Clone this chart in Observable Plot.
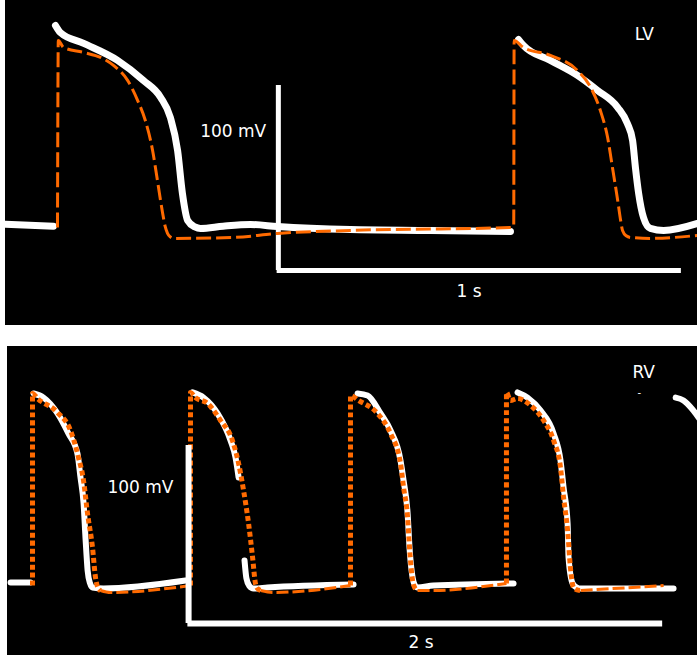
<!DOCTYPE html>
<html>
<head>
<meta charset="utf-8">
<script src="https://cdn.jsdelivr.net/npm/d3@7"></script>
<script src="https://cdn.jsdelivr.net/npm/@observablehq/plot@0.6"></script>
<style>
  html, body { margin: 0; padding: 0; background: #fff; }
  #wrap { position: relative; width: 700px; height: 658px; background: #fff; overflow: hidden; }
  #lv { position: absolute; left: 5px; top: 0; }
  #rv { position: absolute; left: 7px; top: 346px; }
</style>
</head>
<body>
<div id="wrap">
  <div id="lv"></div>
  <div id="rv"></div>
</div>
<script>
// ---- Left ventricle: recorded action potentials (time in ms, membrane potential in mV); NaN = gap in trace
const lvRecTime = [0, 119, NaN, 124, 136, 194, 278, 342, 385, 409, 427, 439, 452, 470, 484, 540, 608, 675, 856, 1055, 1253, NaN,
  1273, 1285, 1352, 1419, 1469, 1519, 1543, 1556, 1563, 1571, 1583, 1600, 1633, 1717];
const lvRecV = [-86, -87, NaN, 21.5, 17.7, 11.8, 2.6, -8.2, -17.4, -28.2, -46.1, -69.3, -83.9, -87.4, -88.2, -87.0, -86.1, -87.2, -88.8, -89.3, -89.9, NaN,
  13.9, 10.7, 2.6, -5.5, -13.6, -22.8, -31.5, -40.7, -55.3, -69.3, -82.3, -88.2, -89.3, -85.5];

// ---- Left ventricle: model action potentials
const lvModelTime = [129, 131, 144, 194, 236, 268, 303, 328, 347, 365, 377, 390, 396, 402, 409, 417, 566, 675, 856, 1253, 1261,
  1262, 1285, 1352, 1419, 1452, 1476, 1494, 1506, 1519, 1526, 1531, 1540, 1551, 1600, 1717];
const lvModelV = [-87.7, 13.4, 9.6, 6.9, 4.2, -0.1, -8.2, -19.1, -29.9, -46.1, -62.3, -80.1, -87.0, -90.9, -92.8, -93.6, -93.1, -90.9, -89.3, -87.7, -87.2,
  13.4, 9.6, 5.3, -2.8, -12.0, -24.5, -39.1, -55.3, -73.1, -83.5, -89.3, -92.2, -93.1, -93.6, -92.0];

// ---- Right ventricle: recorded action potentials
const rvRecTime = [13, 97, NaN, 110, 152, 211, 257, 295, 308, 321, 329, 338, 348, 359, 405, 751, NaN,
  781, 827, 886, 941, 962, 975, NaN, 1000, 1008, 1020, 1038, 1097, 1460, NaN,
  1477, 1519, 1574, 1616, 1658, 1671, 1688, 1696, 1709, 1718, 1730, 1797, 2135, NaN,
  2152, 2194, 2249, 2304, 2333, 2346, 2363, 2367, 2384, 2400, 2418, 2810, NaN,
  2819, 2852, 2894, 2924];
const rvRecV = [-83.6, -83.6, NaN, 22.6, 20.3, 11.4, 0.1, -11.1, -24.6, -39.2, -58.3, -76.8, -84.0, -86.4, -87.0, -82.5, NaN,
  23.2, 20.3, 11.4, -3.8, -13.4, -24.6, NaN, -71.2, -81.3, -85.5, -87.0, -86.4, -84.7, NaN,
  22.6, 21.5, 11.4, 1.8, -15.0, -26.3, -44.8, -63.9, -80.8, -85.0, -86.4, -85.3, -84.1, NaN,
  23.2, 20.3, 13.0, 0.1, -15.0, -30.2, -50.4, -69.5, -84.1, -86.3, -87.0, -87.0, NaN,
  20.3, 18.7, 13.0, 7.4];

// ---- Right ventricle: model action potentials, split into upstroke/repolarisation ("ap") and diastole ("rest")
const rvModelTime = [
  105.5, 105.5, 126.6, 211, 265.8, 299.6, 320.7, 337.6, 358.6, 371.3, 380, 392.4,
  392.4, 434.6, 772,
  772, 772, 793, 844, 899, 949, 975, 996, 1017, 1034, 1046, 1055, 1068,
  1068, 1122, 1447,
  1447, 1447, 1481, 1561, 1616, 1658, 1671, 1688, 1696, 1709, 1718, 1730,
  1730, 1785, 2105,
  2105, 2105, 2122, 2152, 2207, 2262, 2304, 2333, 2346, 2363, 2376, 2388, 2400, 2418,
  2418, 2768];
const rvModelV = [
  -85.3, 22.6, 19.8, 11.9, 1.8, -13.4, -26.3, -44.8, -63.9, -80.8, -86.0, -88.1,
  -88.1, -89.2, -85.3,
  -85.3, 23.2, 20.3, 17.0, 7.4, -3.8, -16.7, -31.9, -50.4, -69.5, -84.1, -87.0, -88.1,
  -88.1, -89.2, -85.3,
  -85.3, 21.5, 18.7, 11.4, 0.1, -16.7, -30.2, -47.1, -63.9, -82.5, -86.5, -88.1,
  -88.1, -88.1, -84.1,
  -84.1, 23.2, 18.7, 19.8, 15.9, 7.4, -3.8, -19.0, -35.8, -54.4, -76.8, -86.4, -87.6, -88.1,
  -88.1, -85.3];
const rvModelPhase = [
  "ap", "ap", "ap", "ap", "ap", "ap", "ap", "ap", "ap", "ap", "ap", "ap",
  "rest", "rest", "rest",
  "ap", "ap", "ap", "ap", "ap", "ap", "ap", "ap", "ap", "ap", "ap", "ap", "ap",
  "rest", "rest", "rest",
  "ap", "ap", "ap", "ap", "ap", "ap", "ap", "ap", "ap", "ap", "ap", "ap",
  "rest", "rest", "rest",
  "ap", "ap", "ap", "ap", "ap", "ap", "ap", "ap", "ap", "ap", "ap", "ap", "ap", "ap",
  "rest", "rest"];

// ---- Scale bars (origin time, origin potential, length in ms and mV) and labels
const lvBar = {t: 677, v: -110.9, ms: 1000, mV: 100};
const rvBar = {t: 764, v: -106.6, ms: 2000, mV: 100};
const lvLabels = [
  {t: 647, v: -36.1, text: "100 mV", anchor: "end"},
  {t: 1150, v: -122.6, text: "1 s", anchor: "middle"},
  {t: 1585, v: 16.8, text: "LV", anchor: "middle"}
];
const rvLabels = [
  {t: 700, v: -30.0, text: "100 mV", anchor: "end"},
  {t: 1745, v: -117.1, text: "2 s", anchor: "middle"},
  {t: 2684, v: 34.6, text: "RV", anchor: "middle"}
];
const rvMarker = [{t: 2665, v: 23.0}];

const ORANGE = "#ff6a00";
const FONT = "DejaVu Sans, Verdana, sans-serif";

const zip = (ts, vs) => ts.map((t, i) => ({t, v: vs[i]}));
const lvRec = zip(lvRecTime, lvRecV);
const lvModel = zip(lvModelTime, lvModelV);
const rvRec = zip(rvRecTime, rvRecV);
let seg = 0;
const rvModel = rvModelTime.map((t, i) => {
  if (i > 0 && rvModelPhase[i] !== rvModelPhase[i - 1]) seg++;
  return {t, v: rvModelV[i], phase: rvModelPhase[i], seg};
});

function labelMarks(labels) {
  return ["start", "middle", "end"].map(a =>
    Plot.text(labels.filter(d => d.anchor === a), {
      x: "t", y: "v", text: "text", textAnchor: a, lineAnchor: "middle",
      fill: "white", fontSize: 17, fontFamily: FONT
    })
  );
}

function scaleBar(b, w) {
  return [
    Plot.ruleX([b.t], {y1: b.v, y2: b.v + b.mV, stroke: "white", strokeWidth: w}),
    Plot.ruleY([b.v], {x1: b.t - 3, x2: b.t + b.ms, stroke: "white", strokeWidth: w})
  ];
}

// Left ventricle panel
const lvPlot = Plot.plot({
  width: 692, height: 325, margin: 0,
  x: {domain: [0, 1717], axis: null},
  y: {domain: [-140.7, 35], axis: null},
  style: {background: "black"},
  marks: [
    ...scaleBar(lvBar, 5),
    Plot.line(lvRec, {x: "t", y: "v", stroke: "white", strokeWidth: 7, curve: "monotone-x",
      strokeLinecap: "round", strokeLinejoin: "round", clip: true}),
    Plot.line(lvModel, {x: "t", y: "v", stroke: ORANGE, strokeWidth: 3, strokeDasharray: "15,5",
      strokeLinecap: "butt", curve: "monotone-x", clip: true}),
    ...labelMarks(lvLabels)
  ]
});
document.getElementById("lv").appendChild(lvPlot);

// Right ventricle panel
const rvPlot = Plot.plot({
  width: 690, height: 309, margin: 0,
  x: {domain: [0, 2911], axis: null},
  y: {domain: [-124.6, 49], axis: null},
  style: {background: "black"},
  marks: [
    Plot.line(rvRec, {x: "t", y: "v", stroke: "white", strokeWidth: 6, curve: "monotone-x",
      strokeLinecap: "round", strokeLinejoin: "round", clip: true}),
    Plot.line(rvModel.filter(d => d.phase === "rest"), {x: "t", y: "v", z: "seg", stroke: ORANGE,
      strokeWidth: 3, strokeDasharray: "12,4", strokeLinecap: "butt", curve: "monotone-x", clip: true}),
    Plot.line(rvModel.filter(d => d.phase === "ap"), {x: "t", y: "v", z: "seg", stroke: ORANGE,
      strokeWidth: 5, strokeDasharray: "5,3", strokeLinecap: "butt", curve: "monotone-x", clip: true}),
    ...scaleBar(rvBar, 6),
    Plot.text(rvMarker, {x: "t", y: "v", text: () => "-", fill: "white", fontSize: 10, fontFamily: FONT}),
    ...labelMarks(rvLabels)
  ]
});
document.getElementById("rv").appendChild(rvPlot);
</script>
</body>
</html>
